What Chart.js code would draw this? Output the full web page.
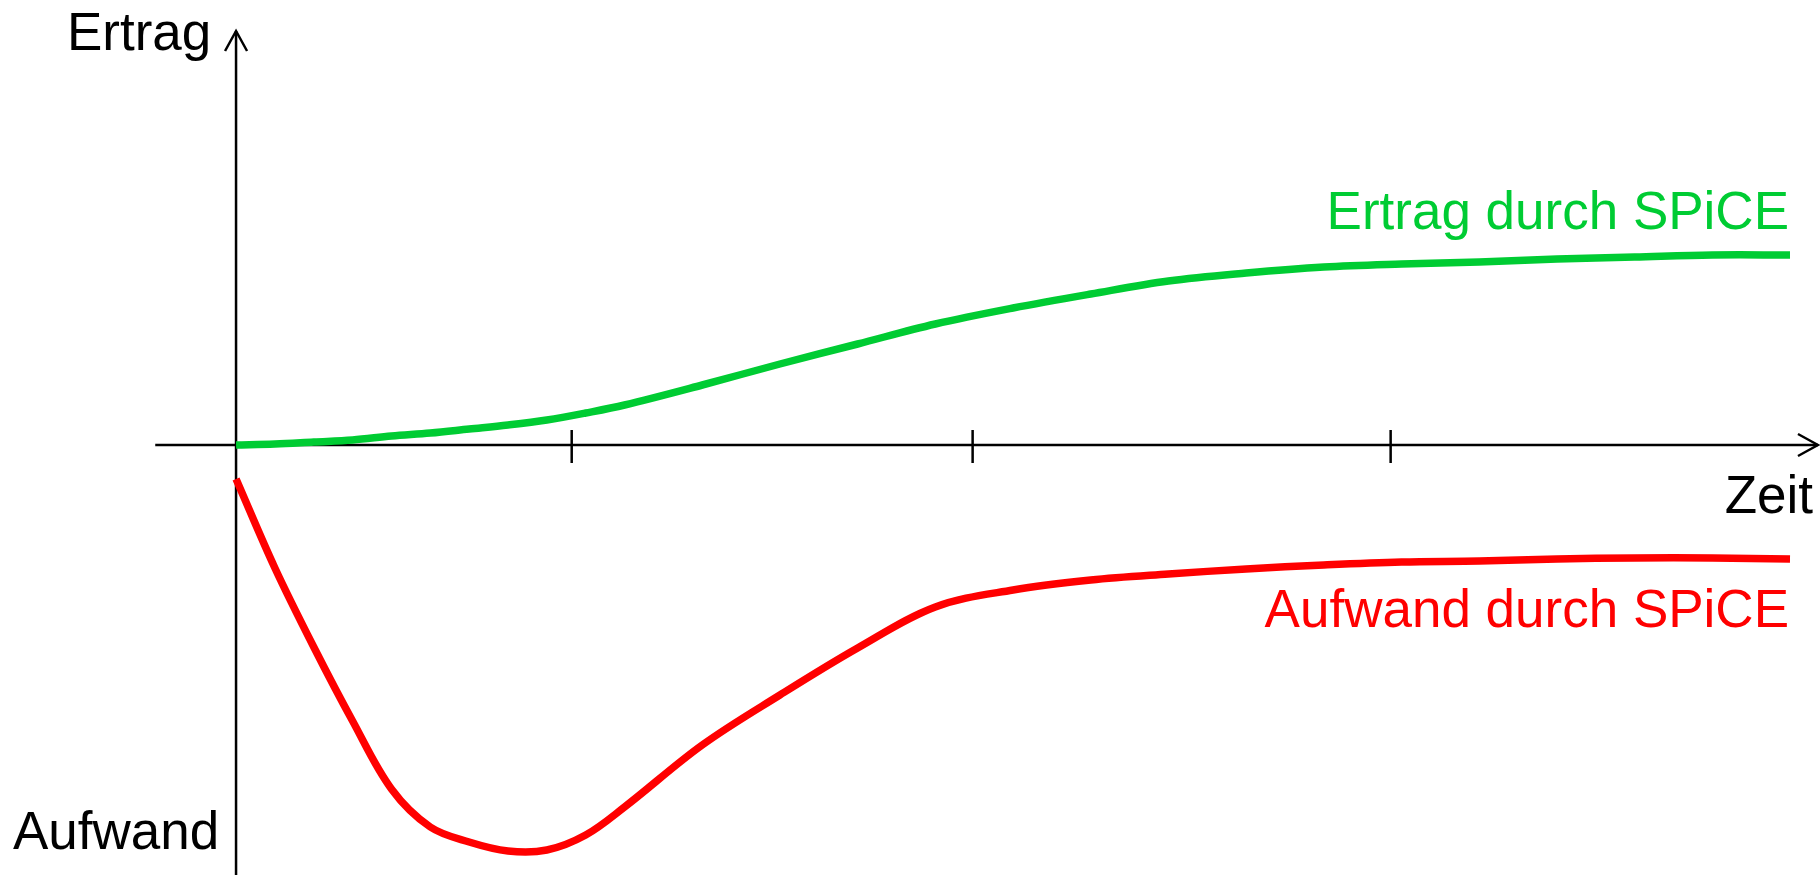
<!DOCTYPE html>
<html>
<head>
<meta charset="utf-8">
<script src="https://cdn.jsdelivr.net/npm/chart.js@4/dist/chart.umd.min.js"></script>
<style>
  html, body { margin: 0; padding: 0; background: #fff; }
  #wrap { width: 1820px; height: 875px; position: relative; }
</style>
</head>
<body>
<div id="wrap"><canvas id="chart"></canvas></div>
<script>
// time points (arbitrary units, y axis at 0)
const zeit = [0, 2.5, 5, 7.5, 10, 12.5, 15, 17.5, 20, 22.5, 25, 30, 35, 40, 45, 50, 55, 60, 65, 70, 75, 80, 85, 90, 95, 100];
// Ertrag durch SPiCE
const ertrag = [0, 0.01, 0.03, 0.05, 0.09, 0.12, 0.16, 0.20, 0.25, 0.32, 0.40, 0.60, 0.81, 1.01, 1.21, 1.37, 1.51, 1.64, 1.72, 1.78, 1.81, 1.83, 1.86, 1.88, 1.90, 1.90];
// Aufwand durch SPiCE
const aufwand = [-0.34, -1.23, -2.02, -2.76, -3.44, -3.82, -3.97, -4.06, -4.05, -3.90, -3.62, -3.00, -2.50, -2.03, -1.62, -1.45, -1.35, -1.29, -1.24, -1.20, -1.17, -1.16, -1.14, -1.13, -1.13, -1.14];
// tick marks on the time axis
const zeitTicks = [21.6, 47.4, 74.3];

const FONT = '53px "Liberation Sans", Arial, Helvetica, sans-serif';
const GREEN = '#00cc33';
const RED = '#ff0000';

const axesPlugin = {
  id: 'axes',
  beforeDatasetsDraw(chart) {
    const ctx = chart.ctx;
    const x = chart.scales.x, y = chart.scales.y;
    const x0 = x.getPixelForValue(0);
    const y0 = y.getPixelForValue(0);
    ctx.save();
    ctx.strokeStyle = '#000';
    ctx.lineWidth = 2.5;
    ctx.lineCap = 'butt';
    ctx.lineJoin = 'miter';

    // time axis
    ctx.beginPath();
    ctx.moveTo(x.getPixelForValue(-5.2), y0);
    ctx.lineTo(x.getPixelForValue(101.8), y0);
    ctx.stroke();
    const xt = x.getPixelForValue(101.8);
    ctx.beginPath();
    ctx.moveTo(xt - 20, y0 - 11);
    ctx.lineTo(xt, y0);
    ctx.lineTo(xt - 20, y0 + 11);
    ctx.stroke();

    // value axis
    const yt = y.getPixelForValue(4.14);
    ctx.beginPath();
    ctx.moveTo(x0, chart.height);
    ctx.lineTo(x0, yt);
    ctx.stroke();
    ctx.beginPath();
    ctx.moveTo(x0 - 11, yt + 20);
    ctx.lineTo(x0, yt);
    ctx.lineTo(x0 + 11, yt + 20);
    ctx.stroke();

    // ticks
    zeitTicks.forEach((t) => {
      const px = x.getPixelForValue(t);
      ctx.beginPath();
      ctx.moveTo(px, y0 - 15);
      ctx.lineTo(px, y0 + 18);
      ctx.stroke();
    });
    ctx.restore();
  },
  afterDraw(chart) {
    const ctx = chart.ctx;
    ctx.save();
    ctx.font = FONT;
    ctx.textBaseline = 'alphabetic';

    ctx.fillStyle = '#000';
    ctx.textAlign = 'left';
    ctx.fillText('Ertrag', 67, 50);
    ctx.fillText('Aufwand', 13, 849);
    ctx.textAlign = 'right';
    ctx.fillText('Zeit', 1813, 513);

    ctx.fillStyle = GREEN;
    ctx.fillText('Ertrag durch SPiCE', 1789, 229);
    ctx.fillStyle = RED;
    ctx.fillText('Aufwand durch SPiCE', 1789, 627);
    ctx.restore();
  }
};

new Chart(document.getElementById('chart'), {
  type: 'line',
  data: {
    labels: zeit,
    datasets: [{
      label: 'Ertrag durch SPiCE',
      data: zeit.map((t, i) => ({ x: t, y: ertrag[i] })),
      borderColor: GREEN,
      borderWidth: 7.5,
      pointRadius: 0,
      tension: 0.35,
      fill: false
    }, {
      label: 'Aufwand durch SPiCE',
      data: zeit.map((t, i) => ({ x: t, y: aufwand[i] })),
      borderColor: RED,
      borderWidth: 7.5,
      pointRadius: 0,
      tension: 0.35,
      fill: false
    }]
  },
  options: {
    responsive: true,
    maintainAspectRatio: false,
    animation: false,
    layout: { padding: 0 },
    plugins: {
      legend: { display: false },
      tooltip: { enabled: false },
      title: { display: false }
    },
    scales: {
      x: { type: 'linear', min: -15.19, max: 101.93, display: false },
      y: { type: 'linear', min: -4.30, max: 4.45, display: false }
    }
  },
  plugins: [axesPlugin]
});
</script>
</body>
</html>
